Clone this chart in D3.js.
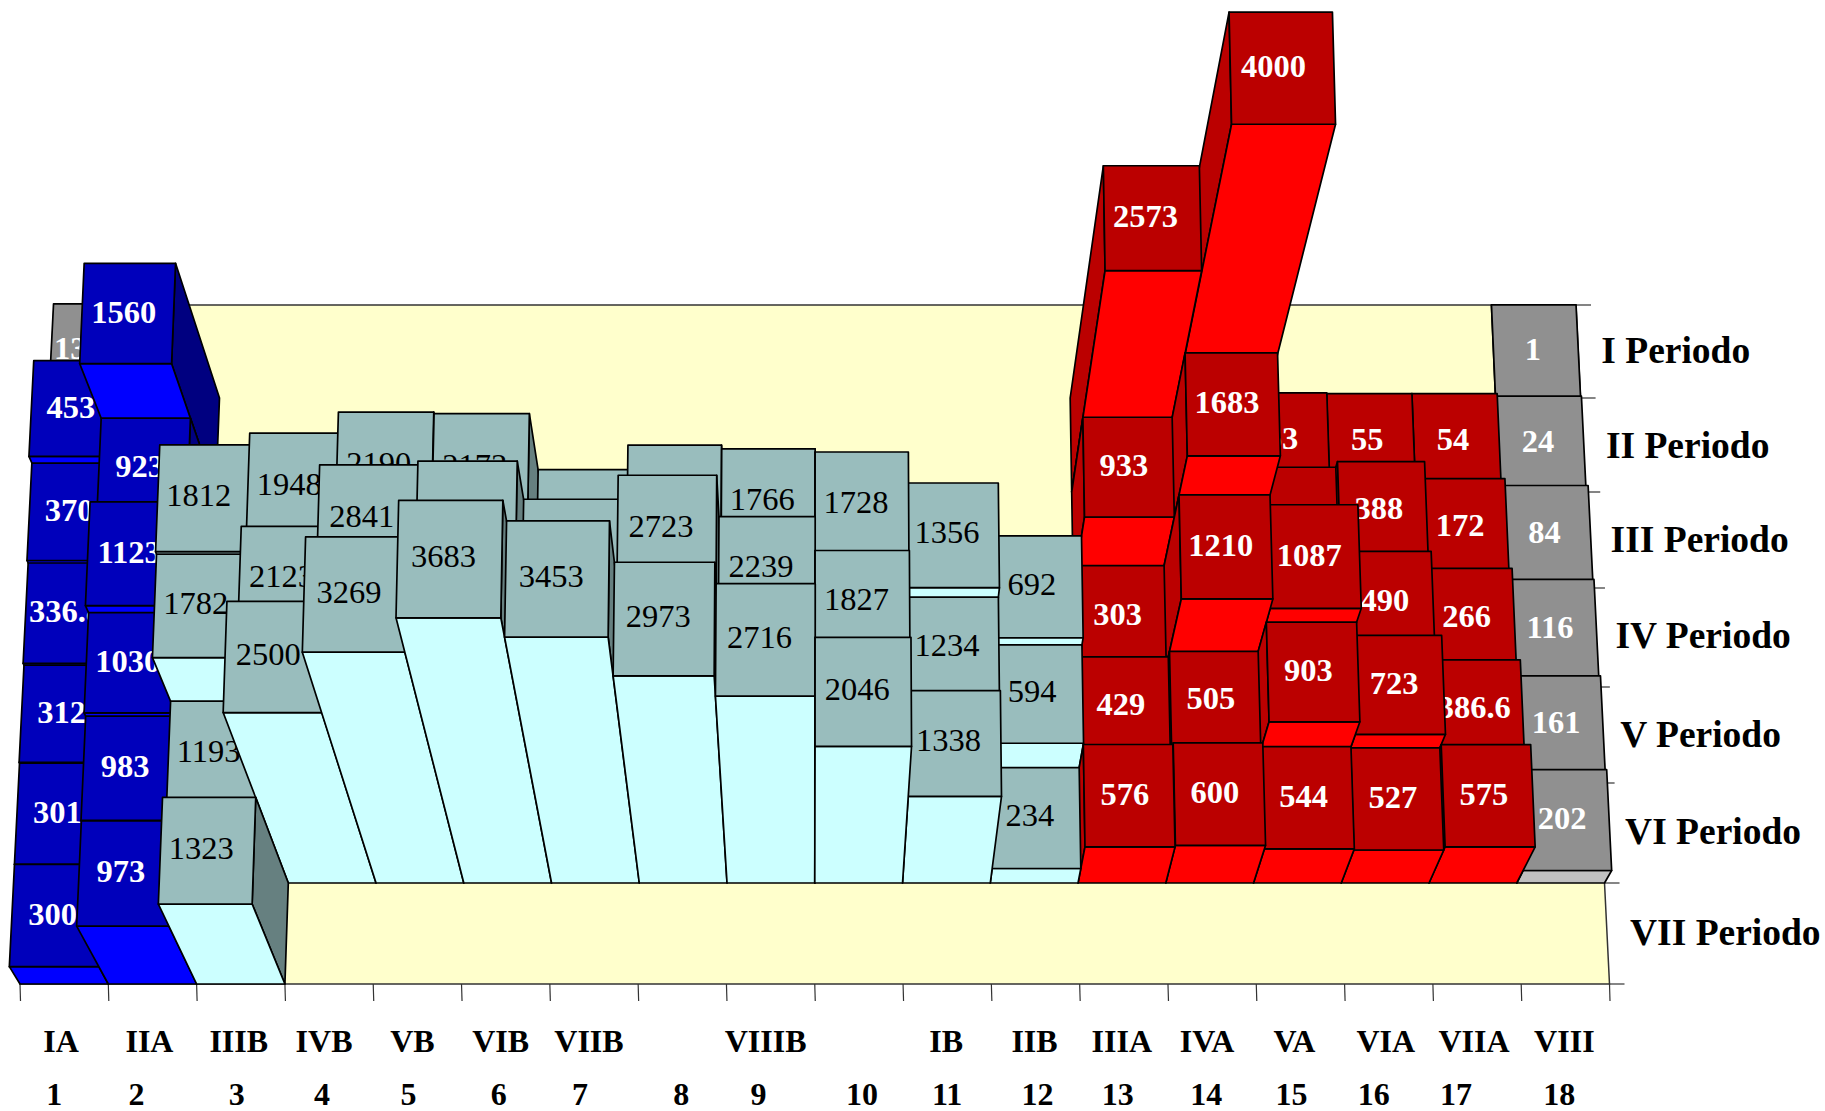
<!DOCTYPE html>
<html>
<head>
<meta charset="utf-8">
<script src="https://cdn.jsdelivr.net/npm/d3@7"></script>
<style>
  html, body { margin: 0; padding: 0; background: #fff; }
  text { font-family: "Liberation Serif", serif; }
</style>
</head>
<body>
<div id="chart"></div>
<script>
/////////////////////////////////////////////////
/* Data */
/////////////////////////////////////////////////
const groupNames = ["IA","IIA","IIIB","IVB","VB","VIB","VIIB","","VIIIB","","IB","IIB","IIIA","IVA","VA","VIA","VIIA","VIII"];
const groupNumbers = ["1","2","3","4","5","6","7","8","9","10","11","12","13","14","15","16","17","18"];
const periodNames = ["I Periodo","II Periodo","III Periodo","IV Periodo","V Periodo","VI Periodo","VII Periodo"];

const period1 = [13.81,null,null,null,null,null,null,null,null,null,null,null,null,null,null,null,null,1];
const period2 = [453,1560,null,null,null,null,null,null,null,null,null,null,2573,4000,63,55,54,24];
const period3 = [370,923,null,null,null,null,null,null,null,null,null,null,933,1683,317,388,172,84];
const period4 = [336.8,1123,1812,1948,2190,2173,1518,1808,1766,1728,1356,692,303,1210,1087,490,266,116];
const period5 = [312,1030,1782,2123,2841,2883,2445,2723,2239,1827,1234,594,429,505,903,723,386.6,161];
const period6 = [301,983,1193,2500,3269,3683,3453,2973,2716,2046,1338,234,576,600,544,527,575,202];
const period7 = [300,973,1323,null,null,null,null,null,null,null,null,null,null,null,null,null,null,null];
const periods = [period1, period2, period3, period4, period5, period6, period7];

/////////////////////////////////////////////////
/* Layout */
/////////////////////////////////////////////////
const width = 1825, height = 1111;
const nGroups = 18, nPeriods = 7;

// floor edges, y of the period lines from back to front
const floorLines = [305, 398, 492, 588, 687, 783, 883, 984];
const yBack = floorLines[0], yFront = floorLines[nPeriods];
const leftEdge = d3.scaleLinear().domain([yBack, yFront]).range([54, 20]);
const rightEdge = d3.scaleLinear().domain([yBack, yFront]).range([1576, 1609.5]);
const yPeriod = d3.scaleLinear().domain(d3.range(nPeriods + 1)).range(floorLines);

// bars grow towards the camera, so the top scales away from this point
const nadirX = 812, nadirY = 2400;
const zDepthX = d3.scaleLinear().domain([0, 4000]).range([1, 0.823]);
const zDepthY = d3.scaleLinear().domain([0, 4000]).range([1, 0.8384]);

function project(g, p, z) {
    const y0 = yPeriod(p);
    const x0 = d3.scaleLinear().domain([0, nGroups]).range([leftEdge(y0), rightEdge(y0)])(g);
    return [nadirX + (x0 - nadirX) / zDepthX(z), nadirY + (y0 - nadirY) / zDepthY(z)];
}

const palette = {
    blue: {top: "#0000BB", front: "#0000FF", right: "#000080", left: "#0000BB", text: "#fff", weight: "bold",
           shiftX: v => -4, shiftY: 9},
    teal: {top: "#99BDBD", front: "#CCFFFF", right: "#668080", left: "#99BDBD", text: "#000", weight: "normal",
           shiftX: v => -6, shiftY: 8},
    red:  {top: "#BB0000", front: "#FF0000", right: "#800000", left: "#BB0000", text: "#fff", weight: "bold",
           shiftX: v => -3.5 - v * 0.0013, shiftY: 9},
    gray: {top: "#909090", front: "#C0C0C0", right: "#606060", left: "#909090", text: "#fff", weight: "bold",
           shiftX: v => -3, shiftY: 9}
};

function family(g, p) {
    if (g == 17 || (g == 0 && p == 0)) return palette.gray;
    if (g < 2) return palette.blue;
    if (g < 12) return palette.teal;
    return palette.red;
}

// small shifts of the axis labels away from the centre of each group
const nameNudge = [-3,-3,-2,-5,-5,-5,-5,0,-5,0,-1,-1,-2,-5,-6,-3,-3,-1];
const numberNudge = [-10,-16,-4,-7,-9,-7,-14,-1,-12,3,0,2,-6,-6,-9,-15,-21,-6];
const periodNudge = [0,2,1,-1,1,0,0];

/////////////////////////////////////////////////
/* Drawing */
/////////////////////////////////////////////////
const svg = d3.select("#chart").append("svg")
    .attr("width", width)
    .attr("height", height)
    .style("display", "block");

const poly = pts => pts.map(q => q.join(",")).join(" ");

// floor
svg.append("polygon")
    .attr("points", poly([project(0,0,0), project(nGroups,0,0), project(nGroups,nPeriods,0), project(0,nPeriods,0)]))
    .attr("fill", "#FFFFCC")
    .attr("stroke", "#333")
    .attr("stroke-width", 1.5);

// ticks along the front edge
svg.append("g").selectAll("line")
    .data(d3.range(nGroups + 1))
    .join("line")
    .attr("x1", g => project(g, nPeriods, 0)[0])
    .attr("y1", yFront)
    .attr("x2", g => project(g, nPeriods, 0)[0] + 0.5)
    .attr("y2", yFront + 17)
    .attr("stroke", "#333")
    .attr("stroke-width", 1.2);

// ticks along the right edge
svg.append("g").selectAll("line")
    .data(d3.range(nPeriods + 1))
    .join("line")
    .attr("x1", p => project(nGroups, p, 0)[0])
    .attr("y1", p => yPeriod(p))
    .attr("x2", p => project(nGroups, p, 0)[0] + 15)
    .attr("y2", p => yPeriod(p))
    .attr("stroke", "#333")
    .attr("stroke-width", 1.2);

// back to front, and from the outer groups towards the middle
const bars = [];
periods.forEach((row, p) => {
    row.forEach((value, g) => {
        if (value != null) bars.push({g: g, p: p, value: value});
    });
});
const outward = b => Math.abs(b.g + 0.5 - nGroups / 2);
bars.sort((a, b) => d3.ascending(a.p, b.p) || d3.descending(outward(a), outward(b)));

const bar = svg.append("g").selectAll("g")
    .data(bars)
    .join("g")
    .attr("stroke", "#000")
    .attr("stroke-width", 1.7)
    .attr("stroke-linejoin", "round");

// side wall facing the middle of the chart
bar.append("polygon")
    .attr("fill", d => d.g < nGroups / 2 ? family(d.g, d.p).right : family(d.g, d.p).left)
    .attr("points", d => {
        const gs = d.g < nGroups / 2 ? d.g + 1 : d.g;
        return poly([project(gs, d.p, d.value), project(gs, d.p + 1, d.value), project(gs, d.p + 1, 0), project(gs, d.p, 0)]);
    });

// front wall
bar.append("polygon")
    .attr("fill", d => family(d.g, d.p).front)
    .attr("points", d => poly([project(d.g, d.p + 1, d.value), project(d.g + 1, d.p + 1, d.value), project(d.g + 1, d.p + 1, 0), project(d.g, d.p + 1, 0)]));

// top of the column, carries the value
bar.append("polygon")
    .attr("fill", d => family(d.g, d.p).top)
    .attr("points", d => poly([project(d.g, d.p, d.value), project(d.g + 1, d.p, d.value), project(d.g + 1, d.p + 1, d.value), project(d.g, d.p + 1, d.value)]));

bar.append("text")
    .attr("stroke", "none")
    .attr("text-anchor", "middle")
    .attr("font-size", 32.5)
    .attr("font-weight", d => family(d.g, d.p).weight)
    .attr("fill", d => family(d.g, d.p).text)
    .attr("x", d => project(d.g + 0.5, d.p + 0.5, d.value)[0] + family(d.g, d.p).shiftX(d.value))
    .attr("y", d => project(d.g + 0.5, d.p + 0.5, d.value)[1] + family(d.g, d.p).shiftY)
    .text(d => d.value);

// group names and numbers under the front edge
const axisText = (names, nudge, baseline) => svg.append("g").selectAll("text")
    .data(names)
    .join("text")
    .attr("text-anchor", "middle")
    .attr("font-size", 32)
    .attr("font-weight", "bold")
    .attr("x", (d, g) => project(g + 0.5, nPeriods, 0)[0] + nudge[g])
    .attr("y", baseline)
    .text(d => d);

axisText(groupNames, nameNudge, 1052);
axisText(groupNumbers, numberNudge, 1105);

// period names beside the right edge
svg.append("g").selectAll("text")
    .data(periodNames)
    .join("text")
    .attr("font-size", 37.5)
    .attr("font-weight", "bold")
    .attr("x", (d, p) => project(nGroups, p + 0.5, 0)[0] + 23)
    .attr("y", (d, p) => yPeriod(p + 0.5) + 11 + periodNudge[p])
    .text(d => d);
</script>
</body>
</html>
